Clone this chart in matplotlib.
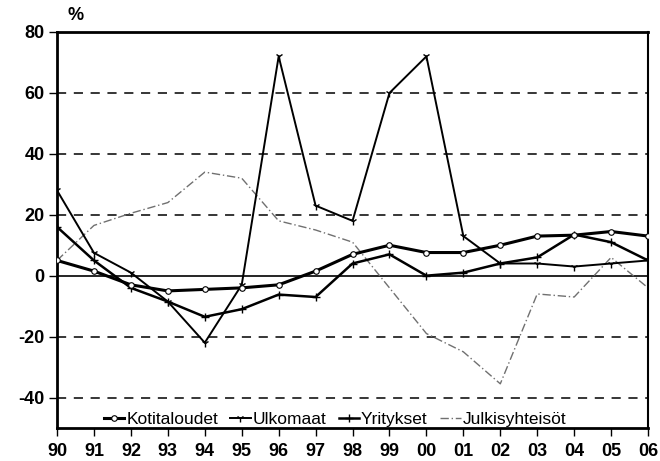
import matplotlib
matplotlib.use("Agg")
import matplotlib.pyplot as plt

years = ['90', '91', '92', '93', '94', '95', '96', '97', '98', '99',
         '00', '01', '02', '03', '04', '05', '06']
kotitaloudet = [5, 1.5, -3, -5, -4.5, -4, -3, 1.5, 7, 10, 7.6, 7.6, 10, 13, 13.3, 14.5, 13]
ulkomaat = [28, 7.5, 1, -8.5, -22, -3, 72, 23, 18, 60, 72, 13, 4, 4, 3, 4, 5]
yritykset = [16, 5, -4, -8.5, -13.5, -11, -6.2, -7, 4, 7, 0, 1, 4, 6, 13.5, 11, 5]
julkisyhteisot = [5, 16.5, 20.5, 24, 34, 32, 18, 15, 11, -4, -19, -25, -35.5, -6, -7, 6, -4]
yticks = [-40, -20, 0, 20, 40, 60, 80]

plt.rcParams['font.family'] = ['Liberation Sans', 'DejaVu Sans']

fig = plt.figure(figsize=(6.6, 4.61), dpi=100)
ax = fig.add_axes([0.0864, 0.0716, 0.8955, 0.859])
x = list(range(len(years)))

for g in [-40, -20, 20, 40, 60]:
    ax.axhline(g, color='black', lw=1.1, ls=(0, (6, 5)), zorder=1)
ax.axhline(0, color='black', lw=1.2, zorder=1)

ax.plot(x, kotitaloudet, color='black', lw=2.2, marker='o', ms=4, mfc='white',
        mec='black', mew=0.8, label='Kotitaloudet', zorder=4)
ax.plot(x, ulkomaat, color='black', lw=1.4, marker='1', ms=6, mew=1.0,
        label='Ulkomaat', zorder=3)
ax.plot(x, yritykset, color='black', lw=1.8, marker='+', ms=6, mew=1.0,
        label='Yritykset', zorder=3)
ax.plot(x, julkisyhteisot, color='#707070', lw=1.0, ls=(0, (6, 2, 1, 2)),
        label='Julkisyhteisöt', zorder=2)

ax.set_xlim(0, len(years) - 1)
ax.set_ylim(-50, 80)
ax.set_xticks(x)
ax.set_xticklabels(years, fontsize=13, fontweight='bold')
ax.set_yticks(yticks)
ax.set_yticklabels([str(v) for v in yticks], fontsize=13, fontweight='bold')
ax.tick_params(axis='both', direction='out', length=6, width=1.0, color='black')
ax.tick_params(axis='x', pad=5)
ax.tick_params(axis='y', pad=3)
for s in ['left', 'bottom', 'top']:
    ax.spines[s].set_linewidth(2.0)
ax.spines['right'].set_linewidth(1.5)

fig.text(0.115, 0.985, '%', fontsize=13, fontweight='bold', ha='center', va='top')

leg = ax.legend(loc='lower center', bbox_to_anchor=(0.47, -0.025), ncol=4,
                frameon=False, fontsize=12.5, handlelength=1.2, handletextpad=0.1,
                columnspacing=0.7, borderaxespad=0.2)

fig.savefig('out.png', dpi=100)
